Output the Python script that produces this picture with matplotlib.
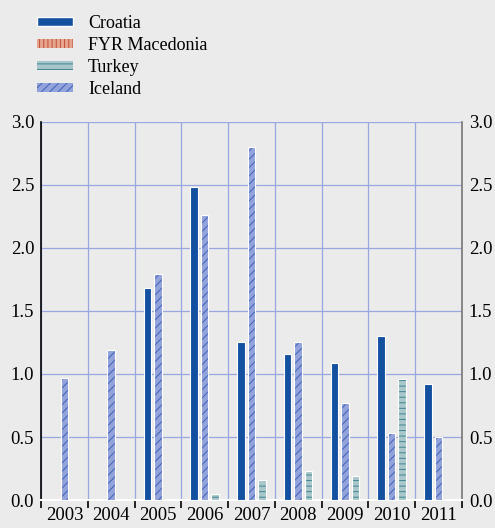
import numpy as np
import matplotlib.pyplot as plt
from matplotlib.patches import Patch

years = ['2003', '2004', '2005', '2006', '2007', '2008', '2009', '2010', '2011']
croatia = [0, 0, 1.68, 2.48, 1.25, 1.16, 1.085, 1.30, 0.92]
fyr_macedonia = [0, 0, 0, 0, 0, 0, 0, 0, 0]
turkey = [0, 0, 0.005, 0.05, 0.16, 0.23, 0.19, 0.96, 0]
iceland = [0.97, 1.19, 1.79, 2.26, 2.80, 1.25, 0.77, 0.535, 0.50]

plt.rcParams['font.family'] = ['Liberation Serif', 'DejaVu Serif']
plt.rcParams['hatch.linewidth'] = 0.7
bg = '#ebebeb'
grid_c = '#9aa6e0'
c_cro = '#1450a0'
c_ice = '#92a2da'
c_ice_h = '#3f62b8'
c_tur = '#a9c7cb'
c_tur_h = '#3f8590'

fig = plt.figure(figsize=(4.95, 5.28), dpi=100, facecolor=bg)
ax = fig.add_axes([0.083, 0.053, 0.85, 0.716], facecolor=bg)

x = np.arange(len(years))
w = 0.16
off = 0.225

ax.bar(x - off, croatia, w, color=c_cro, edgecolor='white', linewidth=0.8, zorder=3)
ax.bar(x, iceland, w, color=c_ice, edgecolor=c_ice_h, linewidth=0, hatch='////', zorder=3)
ax.bar(x, iceland, w, color='none', edgecolor='white', linewidth=0.8, zorder=4)
ax.bar(x + off, turkey, w, color=c_tur, edgecolor=c_tur_h, linewidth=0, hatch='---', zorder=3)
ax.bar(x + off, turkey, w, color='none', edgecolor='white', linewidth=0.8, zorder=4)

ax.set_xlim(-0.5, len(years) - 0.5)
ax.set_ylim(0, 3.0)
yt = np.arange(0, 3.01, 0.5)
ax.set_yticks(yt)
ax.set_yticklabels(['%.1f' % v for v in yt])
ax.set_xticks(x)
ax.set_xticklabels(years)
ax.set_xticks(np.arange(-0.5, len(years)), minor=True)

ax.grid(True, which='minor', axis='x', color=grid_c, linewidth=0.9, zorder=0)
ax.grid(True, which='major', axis='y', color=grid_c, linewidth=0.9, zorder=0)
ax.tick_params(axis='x', which='major', length=0, labelsize=13.5, pad=5)
ax.tick_params(axis='x', which='minor', length=6, width=1.2, color='black', direction='out')
ax.tick_params(axis='y', which='major', length=0, labelsize=13.5, pad=5,
               labelright=True, right=False)

ax.spines['top'].set_visible(False)
ax.spines['left'].set_color('black')
ax.spines['left'].set_linewidth(1.2)
ax.spines['right'].set_color('#777777')
ax.spines['right'].set_linewidth(1.2)
ax.spines['bottom'].set_color('white')
ax.spines['bottom'].set_linewidth(1.5)

handles = [
    Patch(facecolor=c_cro, edgecolor='white', label='Croatia'),
    Patch(facecolor='#e7a590', edgecolor='#c0503a', hatch='||||', linewidth=0, label='FYR Macedonia'),
    Patch(facecolor=c_tur, edgecolor=c_tur_h, hatch='---', linewidth=0, label='Turkey'),
    Patch(facecolor=c_ice, edgecolor=c_ice_h, hatch='////', linewidth=0, label='Iceland'),
]
fig.legend(handles=handles, loc='upper left', bbox_to_anchor=(0.05, 0.995), frameon=False,
           fontsize=13, handlelength=1.95, handleheight=0.4, labelspacing=0.27,
           handletextpad=0.85, borderaxespad=0.3)

fig.savefig('out.png', dpi=100, facecolor=bg)
